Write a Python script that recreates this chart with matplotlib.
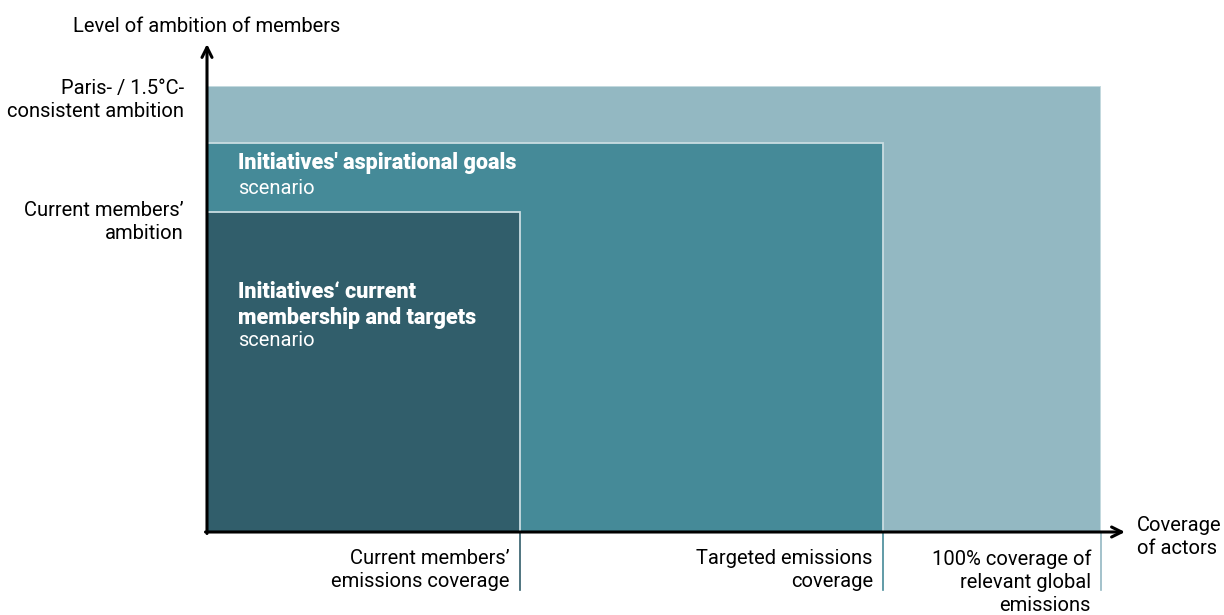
import matplotlib
matplotlib.use('Agg')
import matplotlib.pyplot as plt

plt.rcParams['font.family'] = ['Roboto', 'DejaVu Sans']

# scenario boxes (outermost first)
coverage = [1.0, 0.756, 0.35]
ambition = [1.0, 0.872, 0.717]
box_colors = ['#93b8c2', '#458a98', '#315e6b']
edge_color = '#c9dde2'

x_labels = ['100% coverage of\nrelevant global\nemissions',
            'Targeted emissions\ncoverage',
            'Current members\u2019\nemissions coverage']
y_labels = ['Paris- / 1.5\u00b0C-\nconsistent ambition',
            'Current members\u2019\nambition']
y_label_levels = [1.0, 0.717]

W, H = 1224, 615
fig = plt.figure(figsize=(W / 100, H / 100), dpi=100)
x0, y0 = 207, 532
ax = fig.add_axes([x0 / W, (H - y0) / H, 894 / W, 446 / H])
ax.set_xlim(0, 1)
ax.set_ylim(0, 1)
ax.axis('off')

px = 1 / 894
py = 1 / 446

for c, a, col in zip(coverage, ambition, box_colors):
    ax.bar(0, a, width=c, align='edge', color=col, edgecolor=edge_color,
           linewidth=1.3, zorder=1)

# tick lines below x axis
for c, col in zip(coverage, box_colors):
    ax.plot([c, c], [0, -58 * py], color=col, lw=1.2, clip_on=False, zorder=0)

# axes with arrows
ax.annotate('', xy=(0, (532 - 44) * py), xytext=(0, -1.5 * py),
            arrowprops=dict(arrowstyle='->', lw=2.2, color='black',
                            mutation_scale=18, shrinkA=0, shrinkB=0),
            annotation_clip=False, zorder=5)
ax.annotate('', xy=((1125 - 207) * px, 0), xytext=(-1.5 * px, 0),
            arrowprops=dict(arrowstyle='->', lw=2.2, color='black',
                            mutation_scale=18, shrinkA=0, shrinkB=0),
            annotation_clip=False, zorder=5)

fs = 14.5
bfs = 15.5
ls = 1.27
ax.text(-134 * px, (532 - 26) * py, 'Level of ambition of members', fontsize=fs,
        ha='left', va='center')
ax.text(930 * px, (532 - 537) * py, 'Coverage\nof actors', fontsize=fs,
        ha='left', va='center', linespacing=ls)

# y level labels: centre offsets (pixels) relative to box top
y_offsets = [-14, -10]
for lab, lev, off in zip(y_labels, y_label_levels, y_offsets):
    ax.text(-23 * px, lev + off * py, lab, fontsize=fs, ha='right',
            va='center', linespacing=ls)

for lab, c in zip(x_labels, coverage):
    ax.text(c - 10 * px, -17 * py, lab, fontsize=fs, ha='right', va='top',
            linespacing=ls)

# box annotations
ax.text(31 * px, (532 - 163) * py, "Initiatives' aspirational goals",
        fontsize=bfs, fontweight='heavy', color='white', ha='left', va='center')
ax.text(31 * px, (532 - 188) * py, 'scenario', fontsize=fs, color='white',
        ha='left', va='center')
ax.text(31 * px, (532 - 305) * py, 'Initiatives\u2018 current\nmembership and targets',
        fontsize=bfs, fontweight='heavy', color='white', ha='left', va='center',
        linespacing=1.2)
ax.text(31 * px, (532 - 340) * py, 'scenario', fontsize=fs, color='white',
        ha='left', va='center')

fig.savefig('out.png', dpi=100)
